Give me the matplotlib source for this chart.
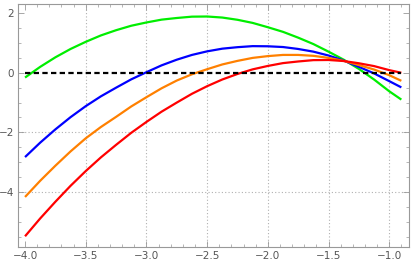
import matplotlib
matplotlib.use("Agg")
import matplotlib.pyplot as plt
from matplotlib.ticker import MultipleLocator, FuncFormatter

# values
x = [-4.0, -3.875, -3.75, -3.625, -3.5, -3.375, -3.25, -3.125, -3.0, -2.875,
     -2.75, -2.625, -2.5, -2.375, -2.25, -2.125, -2.0, -1.875, -1.75, -1.625,
     -1.5, -1.375, -1.25, -1.125, -1.0, -0.9]
green = [-0.16, 0.20, 0.52, 0.80, 1.04, 1.255, 1.43, 1.58, 1.69, 1.785,
         1.84, 1.885, 1.89, 1.855, 1.78, 1.675, 1.53, 1.375, 1.18, 0.965,
         0.71, 0.44, 0.13, -0.225, -0.62, -0.90]
blue = [-2.83, -2.345, -1.90, -1.49, -1.12, -0.79, -0.50, -0.22, 0.02, 0.25,
        0.44, 0.60, 0.72, 0.81, 0.86, 0.895, 0.89, 0.865, 0.80, 0.71,
        0.58, 0.41, 0.20, -0.02, -0.28, -0.49]
orange = [-4.17, -3.625, -3.12, -2.64, -2.20, -1.82, -1.48, -1.13, -0.82, -0.52,
          -0.26, -0.05, 0.12, 0.28, 0.40, 0.50, 0.56, 0.60, 0.60, 0.57,
          0.50, 0.40, 0.26, 0.11, -0.08, -0.27]
red = [-5.49, -4.89, -4.33, -3.795, -3.30, -2.84, -2.42, -2.015, -1.65, -1.305,
       -1.00, -0.705, -0.45, -0.225, -0.04, 0.115, 0.23, 0.325, 0.38, 0.425,
       0.43, 0.395, 0.32, 0.225, 0.09, 0.0]
zero_x = [-4.0, -0.9]
zero_y = [0.0, 0.0]

fig = plt.figure(figsize=(4.15, 2.67), dpi=100)
ax = fig.add_axes([18 / 415, 20 / 267, 391 / 415, 243 / 267])

ax.plot(x, green, color="#00ee00", lw=1.6, solid_capstyle="butt")
ax.plot(x, blue, color="#0000ff", lw=1.6, solid_capstyle="butt")
ax.plot(x, orange, color="#ff8000", lw=1.6, solid_capstyle="butt")
ax.plot(x, red, color="#ff0000", lw=1.6, solid_capstyle="butt")
ax.plot(zero_x, zero_y, color="black", lw=1.6, dashes=(2.4, 1.5))

ax.set_xlim(-4.058, -0.837)
ax.set_ylim(-5.85, 2.31)

ax.xaxis.set_major_locator(MultipleLocator(0.5))
ax.xaxis.set_minor_locator(MultipleLocator(0.1))
ax.yaxis.set_major_locator(MultipleLocator(2))
ax.yaxis.set_minor_locator(MultipleLocator(0.5))

minus = lambda v, p, d: ("%.*f" % (d, v)).replace("-", "\u2212")
ax.xaxis.set_major_formatter(FuncFormatter(lambda v, p: minus(v, p, 1)))
ax.yaxis.set_major_formatter(FuncFormatter(lambda v, p: minus(v, p, 0)))

# grid only at inner major ticks
for gx in [-3.5, -3.0, -2.5, -2.0, -1.5, -1.0]:
    ax.axvline(gx, color="#b0b0b0", lw=0.8, ls=(0, (1, 2)), zorder=0)
for gy in [-4, -2]:
    ax.axhline(gy, color="#b0b0b0", lw=0.8, ls=(0, (1, 2)), zorder=0)

ax.tick_params(which="both", direction="in", top=True, right=True,
               color="#999999", labelcolor="#555555", labelsize=7.5)
ax.tick_params(which="major", length=4, width=0.6, pad=3)
ax.tick_params(which="minor", length=2, width=0.5)
for s in ax.spines.values():
    s.set_color("#999999")
    s.set_linewidth(0.8)

fig.savefig("out.png", dpi=100)
